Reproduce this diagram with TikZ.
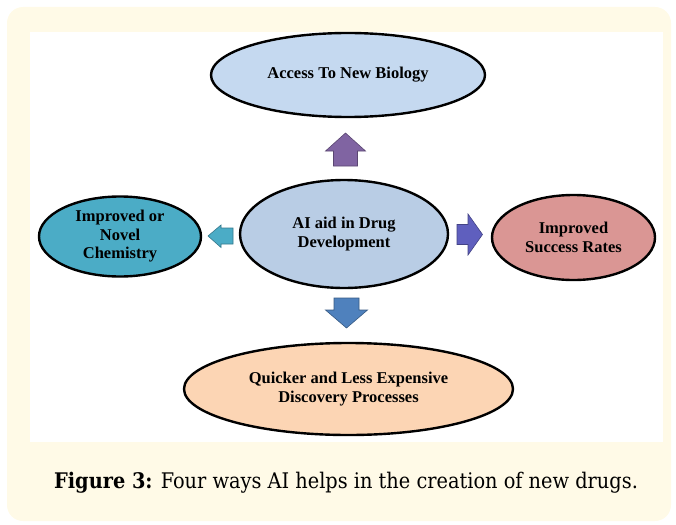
\documentclass[tikz,border=0pt]{standalone}
\usepackage{fontspec}
\setmainfont{Liberation Serif}
\newfontfamily\capfont{DejaVu Serif Condensed}
\usetikzlibrary{shapes.geometric}
\definecolor{panel}{RGB}{255,250,231}
\definecolor{bioblue}{RGB}{197,217,240}
\definecolor{aiblue}{RGB}{185,205,229}
\definecolor{chemteal}{RGB}{75,172,198}
\definecolor{succrose}{RGB}{218,150,148}
\definecolor{discpeach}{RGB}{252,213,180}
\definecolor{uppurple}{RGB}{128,100,162}
\definecolor{rightindigo}{RGB}{95,95,190}
\definecolor{downblue}{RGB}{79,129,189}
\tikzset{
    bubble/.style = {ellipse, draw=black, line width=2.4pt, inner sep=0pt,
        align=center, font=\bfseries\fontsize{16.5}{18.5}\selectfont},
    blockarrow/.style = {draw=#1!70!black, fill=#1, line width=0.6pt, line join=miter}
}
\begin{document}
\begin{tikzpicture}[x=1pt, y=-1pt]
%frame
    \useasboundingbox (0,0) rectangle (676,524);
    \fill[panel, rounded corners=16pt] (7,7) rectangle (671,521);
    \fill[white] (30,32) rectangle (663,442);
%ellipses
    \node[bubble, fill=bioblue, minimum width=274pt, minimum height=84pt] (bio) at (348,75) {Access To New Biology};
    \node[bubble, fill=aiblue, minimum width=208pt, minimum height=108pt] (ai) at (344,234) {AI aid in Drug\\Development};
    \node[bubble, fill=chemteal, minimum width=162pt, minimum height=80pt] (chem) at (120,236.5) {Improved or\\Novel\\Chemistry};
    \node[bubble, fill=succrose, minimum width=163pt, minimum height=85pt] (succ) at (573.5,237.5) {Improved\\Success Rates};
    \node[bubble, fill=discpeach, minimum width=329pt, minimum height=92pt] (disc) at (348.5,389) {Quicker and Less Expensive\\Discovery Processes};
%block arrows
    \draw[blockarrow=uppurple] (333.5,166) -- (333.5,151) -- (325.5,151) -- (345.5,133) -- (365.5,151) -- (357.5,151) -- (357.5,166) -- cycle;
    \draw[blockarrow=downblue] (334,298) -- (359,298) -- (359,310) -- (367.5,310) -- (346.5,328) -- (325.5,310) -- (334,310) -- cycle;
    \draw[blockarrow=rightindigo] (457,224.5) -- (468,224.5) -- (468,214) -- (482.5,234.5) -- (468,255) -- (468,244.5) -- (457,244.5) -- cycle;
    \draw[blockarrow=chemteal] (233,228) -- (221,228) -- (221,225) -- (208,236) -- (221,247.5) -- (221,244) -- (233,244) -- cycle;
%caption
    \node[font=\capfont\fontsize{21.5}{24}\selectfont] (cap) at (346,483) {\textbf{Figure 3:} Four ways AI helps in the creation of new drugs.};
\end{tikzpicture}
\end{document}
